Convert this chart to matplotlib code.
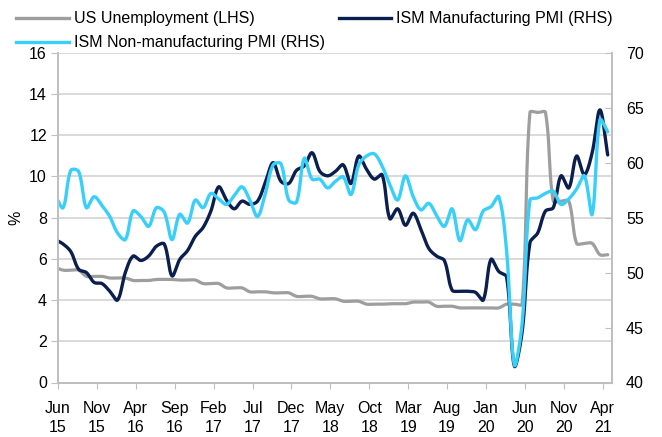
import numpy as np
import matplotlib
matplotlib.use("Agg")
import matplotlib.pyplot as plt
from matplotlib.lines import Line2D

# ---------------- data (monthly, May 2015 .. Apr 2021) ----------------
months = ["May 15", "Jun 15", "Jul 15", "Aug 15", "Sep 15", "Oct 15", "Nov 15", "Dec 15",
          "Jan 16", "Feb 16", "Mar 16", "Apr 16", "May 16", "Jun 16", "Jul 16", "Aug 16",
          "Sep 16", "Oct 16", "Nov 16", "Dec 16", "Jan 17", "Feb 17", "Mar 17", "Apr 17",
          "May 17", "Jun 17", "Jul 17", "Aug 17", "Sep 17", "Oct 17", "Nov 17", "Dec 17",
          "Jan 18", "Feb 18", "Mar 18", "Apr 18", "May 18", "Jun 18", "Jul 18", "Aug 18",
          "Sep 18", "Oct 18", "Nov 18", "Dec 18", "Jan 19", "Feb 19", "Mar 19", "Apr 19",
          "May 19", "Jun 19", "Jul 19", "Aug 19", "Sep 19", "Oct 19", "Nov 19", "Dec 19",
          "Jan 20", "Feb 20", "Mar 20", "Apr 20", "May 20", "Jun 20", "Jul 20", "Aug 20",
          "Sep 20", "Oct 20", "Nov 20", "Dec 20", "Jan 21", "Feb 21", "Mar 21", "Apr 21"]

unemployment = [5.6,
                5.45, 5.45, 5.45, 5.15, 5.15, 5.15, 5.07, 5.07, 5.07, 4.95, 4.95, 4.95,
                5.0, 5.0, 5.0, 4.97, 4.97, 4.97, 4.8, 4.8, 4.8, 4.59, 4.59, 4.59,
                4.4, 4.4, 4.4, 4.35, 4.35, 4.35, 4.18, 4.18, 4.18, 4.06, 4.06, 4.06,
                3.94, 3.94, 3.94, 3.8, 3.8, 3.8, 3.82, 3.82, 3.82, 3.9, 3.9, 3.9,
                3.7, 3.7, 3.7, 3.62, 3.62, 3.62, 3.62, 3.62, 3.62, 3.8, 3.8, 3.8,
                13.1, 13.1, 13.1, 8.8, 8.8, 8.8, 6.75, 6.75, 6.75, 6.2, 6.2]

ism_mfg = [53.0,
           52.6, 51.9, 50.3, 50.0, 49.1, 49.0, 48.3, 47.5, 50.0, 51.5, 51.1, 51.5,
           52.4, 52.6, 49.7, 51.2, 52.0, 53.3, 54.1, 55.6, 57.8, 56.6, 55.8, 56.5,
           56.2, 56.5, 58.2, 60.0, 58.3, 58.1, 59.3, 59.7, 60.9, 59.2, 58.8, 59.2,
           59.8, 58.1, 60.6, 59.4, 58.5, 58.9, 54.9, 55.8, 54.3, 55.4, 53.9, 52.2,
           51.5, 51.1, 48.4, 48.3, 48.3, 48.2, 47.5, 51.2, 50.1, 49.6, 41.5, 44.6,
           52.7, 53.6, 55.6, 55.9, 58.8, 57.7, 60.6, 58.9, 60.9, 64.8, 60.7]

ism_nonmfg = [57.0,
              55.9, 59.3, 59.2, 55.9, 56.9, 56.1, 55.1, 53.6, 53.0, 55.6, 55.1, 54.2,
              55.9, 55.5, 53.0, 55.3, 54.5, 56.6, 55.9, 57.2, 56.7, 56.2, 57.0, 57.8,
              56.6, 55.1, 57.2, 59.8, 59.9, 56.6, 56.4, 60.4, 58.5, 58.5, 57.7, 58.3,
              58.7, 57.1, 59.8, 60.6, 60.8, 59.7, 58.0, 56.6, 58.8, 56.9, 55.7, 56.3,
              55.2, 54.2, 55.8, 52.9, 54.8, 53.9, 55.6, 56.0, 56.9, 52.0, 41.6, 45.4,
              56.6, 56.8, 57.2, 57.4, 56.2, 56.7, 57.6, 58.8, 55.3, 63.9, 62.8]

tick_labels = ["Jun\n15", "Nov\n15", "Apr\n16", "Sep\n16", "Feb\n17", "Jul\n17", "Dec\n17",
               "May\n18", "Oct\n18", "Mar\n19", "Aug\n19", "Jan\n20", "Jun\n20", "Nov\n20",
               "Apr\n21"]

# ---------------- helpers ----------------
def smooth(xs, ys, sx, sy, n=30):
    """Excel-like smoothed line: cubic Bezier whose tangents are scaled by the
    on-screen chord lengths (sx, sy = pixels per data unit)."""
    P = np.column_stack([np.asarray(xs, float) * sx, np.asarray(ys, float) * sy])
    Q = np.vstack([P[0], P, P[-1]])
    out = []
    t = np.linspace(0, 1, n)[:, None]
    for i in range(len(P) - 1):
        p0, p1, p2, p3 = Q[i], Q[i + 1], Q[i + 2], Q[i + 3]
        d01 = np.hypot(*(p1 - p0))
        d12 = np.hypot(*(p2 - p1))
        d23 = np.hypot(*(p3 - p2))
        f1 = d12 / (d01 + d12) / 3.0 if (d01 + d12) > 0 else 0
        f2 = d12 / (d12 + d23) / 3.0 if (d12 + d23) > 0 else 0
        c1 = p1 + (p2 - p0) * f1
        c2 = p2 - (p3 - p1) * f2
        seg = (1 - t) ** 3 * p1 + 3 * (1 - t) ** 2 * t * c1 + 3 * (1 - t) * t ** 2 * c2 + t ** 3 * p2
        out.append(seg if i == 0 else seg[1:])
    S = np.vstack(out)
    return S[:, 0] / sx, S[:, 1] / sy

# month index: Jun 15 = 0
x = np.arange(len(months)) - 1

FONT = "Liberation Sans"
FS = 11.5
plt.rcParams["font.family"] = [FONT, "DejaVu Sans"]

GRAY = "#9E9E9E"
NAVY = "#0B1F4E"
CYAN = "#38D0FA"
GRID = "#D9D9D9"
SPINE = "#BFBFBF"

fig = plt.figure(figsize=(6.62, 4.37), dpi=100)
AX_W = 612 - 58
AX_H = 382.5 - 52.7
ax = fig.add_axes([58 / 662, 1 - 382.5 / 437, AX_W / 662, AX_H / 437])
ax2 = ax.twinx()

XMIN, XMAX = -0.65, 70.55
ax.set_xlim(XMIN, XMAX)
ax.set_ylim(0, 16)
ax2.set_ylim(40, 70)

ax.set_yticks(np.arange(0, 17, 2))
ax2.set_yticks(np.arange(40, 71, 5))
ticks = XMIN + np.arange(len(tick_labels)) * 5
ax.set_xticks(ticks)
ax.set_xticklabels(tick_labels, fontsize=FS, linespacing=1.4)

ax.grid(axis="y", color=GRID, linewidth=1.4)
ax.set_axisbelow(True)

for a in (ax, ax2):
    for s in a.spines.values():
        s.set_color(SPINE)
        s.set_linewidth(1.3)
    a.spines["top"].set_visible(False)

ax.tick_params(axis="y", direction="out", length=5, color=SPINE, labelsize=FS, pad=3)
ax.tick_params(axis="x", direction="out", length=4, color=SPINE, labelsize=FS, pad=9)
ax2.tick_params(axis="y", direction="in", length=5, color=SPINE, labelsize=FS, pad=10)

ax.set_ylabel("%", fontsize=FS)
ax.yaxis.set_label_coords(-0.062, 0.5)

px_x = AX_W / (XMAX - XMIN)
px_left = AX_H / 16.0
px_right = AX_H / 30.0

gx, gy = smooth(x, unemployment, px_x, px_left)
ax.plot(gx, gy, color=GRAY, linewidth=2.3, solid_capstyle="round")
nx, ny = smooth(x, ism_mfg, px_x, px_right)
ax2.plot(nx, ny, color=NAVY, linewidth=2.4, solid_capstyle="round")
cx, cy = smooth(x, ism_nonmfg, px_x, px_right)
ax2.plot(cx, cy, color=CYAN, linewidth=2.4, solid_capstyle="round")

# ---------------- legend (manual, in figure pixels) ----------------
def fx(px):
    return px / 662

def fy(py):
    return 1 - py / 437

legend_items = [
    ("US Unemployment (LHS)", GRAY, 16, 69, 74, 18),
    ("ISM Manufacturing PMI (RHS)", NAVY, 339, 391, 396, 18),
    ("ISM Non-manufacturing PMI (RHS)", CYAN, 16, 69, 74, 42),
]
for label, col, x0, x1, tx, yy in legend_items:
    fig.add_artist(Line2D([fx(x0), fx(x1)], [fy(yy), fy(yy)], color=col,
                          linewidth=2.4, transform=fig.transFigure))
    fig.text(fx(tx), fy(yy), label, fontsize=FS, va="center", ha="left")

fig.savefig("out.png", dpi=100)
